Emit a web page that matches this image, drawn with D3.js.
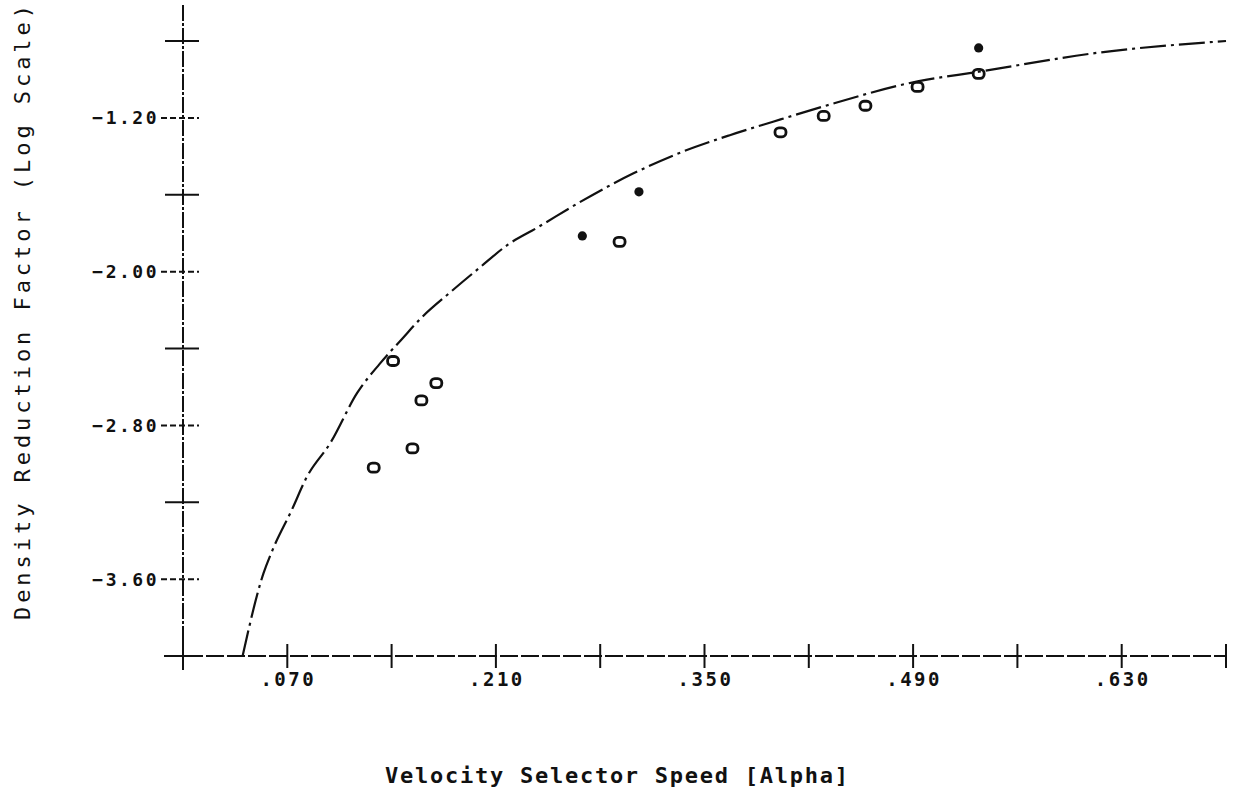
<!DOCTYPE html>
<html>
<head>
<meta charset="utf-8">
<script src="https://cdnjs.cloudflare.com/ajax/libs/d3/7.8.5/d3.min.js"></script>
<style>
  body { margin: 0; background: #fff; }
</style>
</head>
<body>
<script>
// Fitted curve
var curveX = [0.040, 0.054, 0.060, 0.073, 0.083, 0.099, 0.117, 0.132, 0.147, 0.160, 0.179, 0.199,
              0.218, 0.238, 0.266, 0.302, 0.334, 0.367, 0.396, 0.430, 0.493, 0.534, 0.615, 0.700];
var curveY = [-4.00, -3.57, -3.45, -3.24, -3.07, -2.89, -2.63, -2.48, -2.35, -2.24, -2.11, -1.98,
              -1.86, -1.77, -1.64, -1.49, -1.38, -1.29, -1.22, -1.14, -1.01, -0.96, -0.86, -0.80];

// Open circle measurements
var openX = [0.128, 0.141, 0.154, 0.160, 0.170, 0.293, 0.401, 0.430, 0.458, 0.493, 0.534];
var openY = [-3.02, -2.465, -2.92, -2.67, -2.58, -1.845, -1.275, -1.19, -1.137, -1.039, -0.971];

// Filled (star) measurements
var starX = [0.268, 0.306, 0.534];
var starY = [-1.814, -1.585, -0.836];

// Axis ticks
var xTicks = [0, 0.07, 0.14, 0.21, 0.28, 0.35, 0.42, 0.49, 0.56, 0.63, 0.70];
var xLabeled = [0.07, 0.21, 0.35, 0.49, 0.63];
var yTicks = [-4.0, -3.6, -3.2, -2.8, -2.4, -2.0, -1.6, -1.2, -0.8];
var yLabeled = [-3.6, -2.8, -2.0, -1.2];

var width = 1236, height = 790;

var svg = d3.select("body").append("svg")
  .attr("width", width)
  .attr("height", height);

var x = d3.scaleLinear().domain([0, 0.70]).range([183, 1226]);
var y = d3.scaleLinear().domain([-4.0, -0.8]).range([656, 41]);

var ink = "#111";
var mono = "'DejaVu Sans Mono', 'Liberation Mono', monospace";

// y axis line (dash-dot like the plotter)
svg.append("line")
  .attr("x1", x(0)).attr("x2", x(0))
  .attr("y1", 5).attr("y2", 664)
  .attr("stroke", ink).attr("stroke-width", 2)
  .attr("stroke-dasharray", "16,2,3,2");

// x axis line
svg.append("line")
  .attr("x1", 164).attr("x2", x(0.70))
  .attr("y1", y(-4.0)).attr("y2", y(-4.0))
  .attr("stroke", ink).attr("stroke-width", 2)
  .attr("stroke-dasharray", "18,3");

// y ticks
svg.selectAll(".ytick")
  .data(yTicks)
  .enter().append("line")
  .attr("class", "ytick")
  .attr("x1", function(d) { return yLabeled.indexOf(d) >= 0 ? 161 : 165; })
  .attr("x2", 199)
  .attr("y1", function(d) { return y(d); })
  .attr("y2", function(d) { return y(d); })
  .attr("stroke", ink).attr("stroke-width", 2)
  .attr("stroke-dasharray", function(d) { return yLabeled.indexOf(d) >= 0 ? "6,3" : null; });

// y tick labels
svg.selectAll(".ylabel")
  .data(yLabeled)
  .enter().append("text")
  .attr("class", "ylabel")
  .attr("x", 159)
  .attr("y", function(d) { return y(d); })
  .attr("dy", "0.36em")
  .attr("text-anchor", "end")
  .style("font", "bold 18px " + mono)
  .style("letter-spacing", "2.5px")
  .attr("fill", ink)
  .text(function(d) { return d3.format(".2f")(d); });

// x ticks
svg.selectAll(".xtick")
  .data(xTicks)
  .enter().append("line")
  .attr("class", "xtick")
  .attr("x1", function(d) { return x(d); })
  .attr("x2", function(d) { return x(d); })
  .attr("y1", function(d) { return d === 0 ? 642 : 644; })
  .attr("y2", function(d) { return d === 0 ? 670 : 668; })
  .attr("stroke", ink).attr("stroke-width", 2);

// x tick labels
svg.selectAll(".xlabel")
  .data(xLabeled)
  .enter().append("text")
  .attr("class", "xlabel")
  .attr("x", function(d) { return x(d) + 1; })
  .attr("y", 686)
  .attr("text-anchor", "middle")
  .style("font", "bold 19px " + mono)
  .style("letter-spacing", "2.5px")
  .attr("fill", ink)
  .text(function(d) { return d3.format(".3f")(d).replace("0.", "."); });

// fitted curve
var line = d3.line()
  .x(function(d, i) { return x(curveX[i]); })
  .y(function(d, i) { return y(curveY[i]); })
  .curve(d3.curveMonotoneX);

svg.append("path")
  .datum(curveX)
  .attr("d", line)
  .attr("fill", "none")
  .attr("stroke", ink)
  .attr("stroke-width", 2.2)
  .attr("stroke-dasharray", "26,5,3,5");

// open markers
svg.selectAll(".open")
  .data(openX)
  .enter().append("rect")
  .attr("class", "open")
  .attr("x", function(d) { return x(d) - 5.5; })
  .attr("y", function(d, i) { return y(openY[i]) - 4.5; })
  .attr("width", 11)
  .attr("height", 9)
  .attr("rx", 4)
  .attr("fill", "none")
  .attr("stroke", ink)
  .attr("stroke-width", 2.8);

// filled markers
svg.selectAll(".star")
  .data(starX)
  .enter().append("circle")
  .attr("class", "star")
  .attr("cx", function(d) { return x(d); })
  .attr("cy", function(d, i) { return y(starY[i]); })
  .attr("r", 4.6)
  .attr("fill", ink);

// axis titles
svg.append("text")
  .attr("x", 385)
  .attr("y", 783)
  .attr("textLength", 463)
  .attr("lengthAdjust", "spacing")
  .style("font", "bold 22px " + mono)
  .attr("fill", ink)
  .text("Velocity Selector Speed [Alpha]");

svg.append("text")
  .attr("transform", "translate(30,620) rotate(-90)")
  .attr("textLength", 615)
  .attr("lengthAdjust", "spacing")
  .style("font", "22px " + mono)
  .attr("fill", ink)
  .text("Density Reduction Factor (Log Scale)");
</script>
</body>
</html>
